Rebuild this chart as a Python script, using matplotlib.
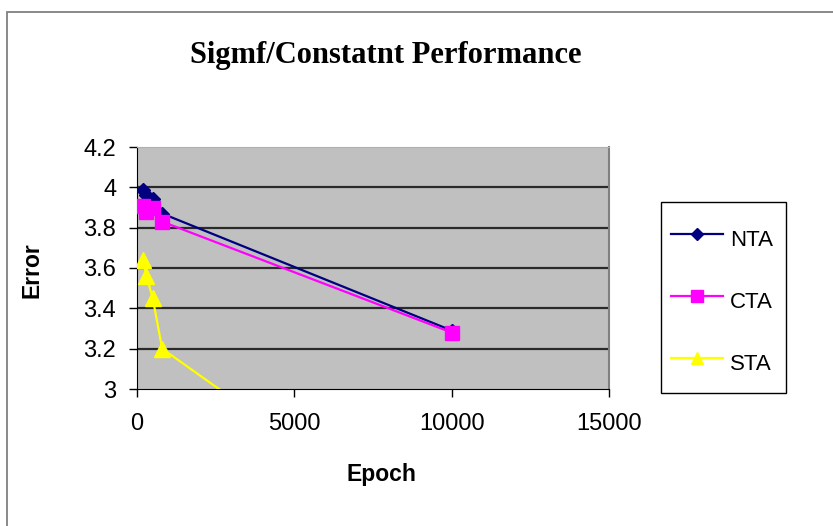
import matplotlib
matplotlib.use("Agg")
import matplotlib.pyplot as plt
from matplotlib.patches import Rectangle

# Training error against epoch for three schemes
epochs = [200, 300, 500, 800, 10000]
nta_error = [3.985, 3.96, 3.94, 3.87, 3.29]
cta_error = [3.905, 3.88, 3.90, 3.83, 3.28]
sta_error = [3.64, 3.56, 3.45, 3.20, 2.18]

series_names = ["NTA", "CTA", "STA"]
x_ticks = [0, 5000, 10000, 15000]
y_ticks = [3, 3.2, 3.4, 3.6, 3.8, 4, 4.2]
y_tick_labels = ["3", "3.2", "3.4", "3.6", "3.8", "4", "4.2"]

plt.rcParams["font.family"] = ["Liberation Sans", "DejaVu Sans"]

W, H = 833, 526
fig = plt.figure(figsize=(W / 100, H / 100), dpi=100)
fig.patch.set_facecolor("white")

# outer chart frame
fig.patches.append(Rectangle((7 / W, -0.1), 1.2, (1 - 12 / H) + 0.1,
                             transform=fig.transFigure, fill=False,
                             edgecolor="#808080", linewidth=1.3))

ax = fig.add_axes([137 / W, 1 - 389 / H, (609 - 137) / W, (389 - 147) / H])
ax.set_facecolor("#C0C0C0")

ax.plot(epochs, nta_error, color="#000080", lw=1.6, marker="D", ms=7,
        mfc="#000080", mec="#000080", label=series_names[0], zorder=3)
ax.plot(epochs, cta_error, color="#FF00FF", lw=1.6, marker="s", ms=10,
        mfc="#FF00FF", mec="#FF00FF", label=series_names[1], zorder=4)
ax.plot(epochs, sta_error, color="#FFFF00", lw=1.6, marker="^", ms=11,
        mfc="#FFFF00", mec="#FFFF00", label=series_names[2], zorder=5)

ax.set_xlim(0, 15000)
ax.set_ylim(3, 4.2)
ax.set_xticks(x_ticks)
ax.set_xticklabels([str(t) for t in x_ticks])
ax.set_yticks(y_ticks)
ax.set_yticklabels(y_tick_labels)

for y in y_ticks[1:-1]:
    ax.axhline(y, color="#2a2a2a", lw=1.6, zorder=1)

ax.tick_params(axis="both", direction="out", length=6, width=1,
               color="black", labelsize=17, pad=9)
ax.tick_params(axis="x", pad=11)
ax.spines["left"].set_color("black")
ax.spines["bottom"].set_color("black")
ax.spines["right"].set_color("#808080")
ax.spines["right"].set_linewidth(1.5)
ax.spines["top"].set_color("#b0b0b0")

fig.text(386 / W, 1 - 55 / H, "Sigmf/Constatnt Performance",
         family=["Liberation Serif", "DejaVu Serif"], fontweight="bold",
         fontsize=22, ha="center", va="center")
fig.text(381 / W, 1 - 475 / H, "Epoch", fontweight="bold", fontsize=16.5,
         ha="center", va="center")
fig.text(32 / W, 1 - 270 / H, "Error", fontweight="bold", fontsize=16.5,
         ha="center", va="center", rotation=90)

# legend box, then its entries without a frame
fig.patches.append(Rectangle((661 / W, 1 - 393 / H), 125 / W, 191 / H,
                             transform=fig.transFigure, fill=False,
                             edgecolor="black", linewidth=1.0))
leg = ax.legend(loc="upper left", bbox_to_anchor=(671 / W, 1 - 222 / H),
                bbox_transform=fig.transFigure, borderaxespad=0,
                fontsize=16, handlelength=2.35, handleheight=2.0,
                handletextpad=0.3, labelspacing=1.24, borderpad=0,
                frameon=False, markerscale=0.85)

fig.savefig("out.png", dpi=100)
